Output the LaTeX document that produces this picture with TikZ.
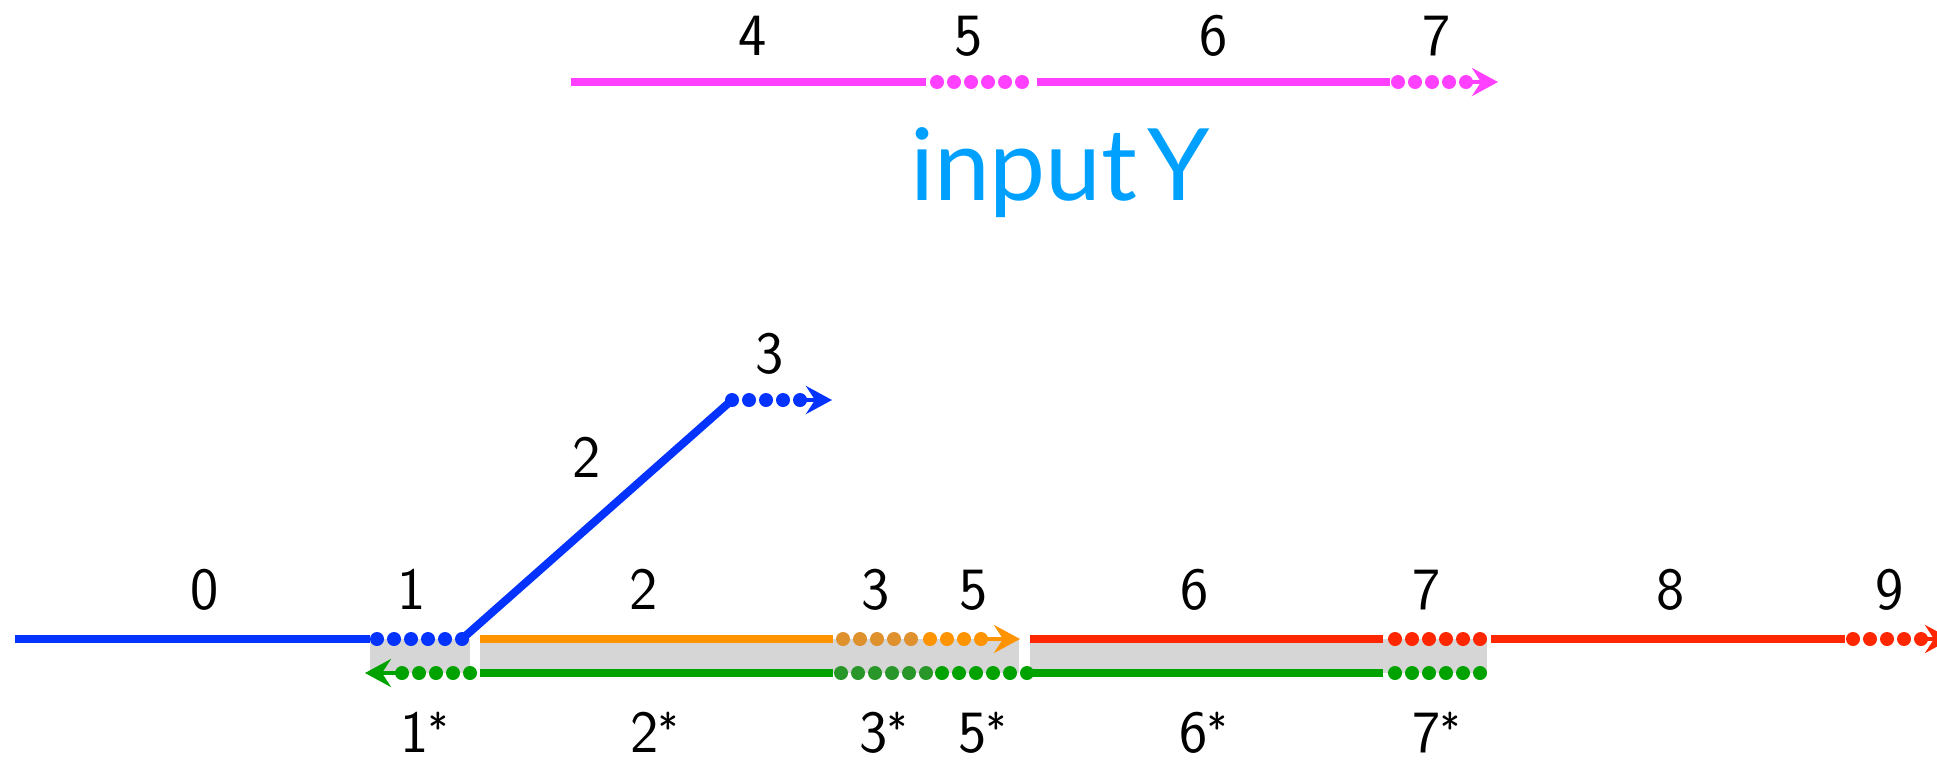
\documentclass[tikz,border=0pt]{standalone}
\usepackage{fontspec}
\newfontfamily\latofont{Lato}
\usetikzlibrary{arrows.meta}
\definecolor{cblue}{RGB}{4,51,255}
\definecolor{cpink}{RGB}{255,64,255}
\definecolor{corange}{RGB}{255,147,0}
\definecolor{corangeD}{RGB}{222,145,45}
\definecolor{cgreen}{RGB}{0,162,0}
\definecolor{cgreenD}{RGB}{40,150,40}
\definecolor{cred}{RGB}{255,38,0}
\definecolor{cgray}{RGB}{214,214,214}
\definecolor{ccyan}{RGB}{0,160,255}
\newcommand{\mystar}{\raisebox{9pt}{\fontsize{42}{42}\selectfont *}}
\tikzset{
  solidseg/.style={line width=8pt},
  dotseg/.style={line width=14pt, line cap=round, dash pattern=on 0pt off 17pt},
  tipseg/.style={line width=4pt, -{Stealth[length=26pt,width=28pt,inset=9pt]}},
  lab/.style={font=\sffamily\fontsize{60}{60}\selectfont, anchor=base, inner sep=0pt},
  bigtitle/.style={font=\latofont\fontsize{100}{100}\selectfont, text=ccyan, anchor=base, inner sep=0pt},
  graybox/.style={fill=cgray, draw=none}
}
\begin{document}
\begin{tikzpicture}[x=1pt,y=-1pt]
\useasboundingbox (0,0) rectangle (1937,761);
\clip (0,0) rectangle (1937,761);
% ---------- coordinates ----------
% pink (input Y)
\coordinate (p0) at (571,82);  \coordinate (p1) at (926,82);
\coordinate (p2) at (937,82);  \coordinate (p3) at (1022.5,82);
\coordinate (p4) at (1037,82); \coordinate (p5) at (1390,82);
\coordinate (p6) at (1398,82); \coordinate (p7) at (1466.5,82);
\coordinate (p7a) at (1466,82); \coordinate (p8) at (1498,82);
% blue
\coordinate (b0) at (15,639);  \coordinate (b1) at (370,639);
\coordinate (b2) at (377,639); \coordinate (b3) at (462.5,639);
\coordinate (b3a) at (462,639);
\coordinate (b4) at (732,400); \coordinate (b5) at (800.5,400);
\coordinate (b5a) at (800,400); \coordinate (b6) at (832,400);
% orange
\coordinate (o0) at (480,639); \coordinate (o1) at (833,639);
\coordinate (o2) at (843,639); \coordinate (o3) at (911.5,639);
\coordinate (o4) at (930,639); \coordinate (o5) at (981.5,639);
\coordinate (o5a) at (981,639); \coordinate (o6) at (1020,639);
% green
\coordinate (g0) at (365,673); \coordinate (g1) at (402,673);
\coordinate (g2) at (470.5,673);
\coordinate (g3) at (480,673); \coordinate (g4) at (833,673);
\coordinate (g5) at (841,673); \coordinate (g6) at (926.5,673);
\coordinate (g7) at (942,673); \coordinate (g8) at (1027.5,673);
\coordinate (g8a) at (1027,673); \coordinate (g9) at (1383,673);
\coordinate (g10) at (1395,673); \coordinate (g11) at (1480.5,673);
% red
\coordinate (r0) at (1030,639); \coordinate (r1) at (1383,639);
\coordinate (r2) at (1395,639); \coordinate (r3) at (1480.5,639);
\coordinate (r4) at (1491,639); \coordinate (r5) at (1845,639);
\coordinate (r6) at (1853,639); \coordinate (r7) at (1921.5,639);
\coordinate (r7a) at (1921,639); \coordinate (r8) at (1951,639);
% ---------- gray bands ----------
\fill[graybox] (370,639) rectangle (470,673);
\fill[graybox] (480,639) rectangle (1019,673);
\fill[graybox] (1030,639) rectangle (1487,673);
% ---------- pink ----------
\draw[solidseg, cpink] (p0) -- (p1);
\draw[dotseg, cpink] (p2) -- (p3);
\draw[solidseg, cpink] (p4) -- (p5);
\draw[dotseg, cpink] (p6) -- (p7);
\draw[tipseg, cpink] (p7a) -- (p8);
% ---------- blue ----------
\draw[solidseg, cblue] (b0) -- (b1);
\draw[dotseg, cblue] (b2) -- (b3);
\draw[solidseg, cblue, line cap=round] (b3a) -- (b4);
\draw[dotseg, cblue] (b4) -- (b5);
\draw[tipseg, cblue] (b5a) -- (b6);
% ---------- orange ----------
\draw[solidseg, corange] (o0) -- (o1);
\draw[dotseg, corangeD] (o2) -- (o3);
\draw[dotseg, corange] (o4) -- (o5);
\draw[tipseg, corange] (o5a) -- (o6);
% ---------- green ----------
\draw[tipseg, cgreen] (g1) -- (g0);
\draw[dotseg, cgreen] (g1) -- (g2);
\draw[solidseg, cgreen] (g3) -- (g4);
\draw[dotseg, cgreenD] (g5) -- (g6);
\draw[dotseg, cgreen] (g7) -- (g8);
\draw[solidseg, cgreen] (g8a) -- (g9);
\draw[dotseg, cgreen] (g10) -- (g11);
% ---------- red ----------
\draw[solidseg, cred] (r0) -- (r1);
\draw[dotseg, cred] (r2) -- (r3);
\draw[solidseg, cred] (r4) -- (r5);
\draw[dotseg, cred] (r6) -- (r7);
\draw[tipseg, cred] (r7a) -- (r8);
% ---------- labels ----------
\node[lab] (t4) at (753,55) {4};
\node[lab] (t5) at (969,55) {5};
\node[lab] (t6) at (1214,55) {6};
\node[lab] (t7) at (1437,55) {7};
\node[bigtitle] (title) at (1060,200) {input\hspace{10pt}Y};
\node[lab] (l0) at (205,609) {0};
\node[lab] (l1) at (412,609) {1};
\node[lab] (l2) at (644,609) {2};
\node[lab] (l3) at (876,609) {3};
\node[lab] (l5) at (974,609) {5};
\node[lab] (l6) at (1195,609) {6};
\node[lab] (l7) at (1427,609) {7};
\node[lab] (l8) at (1671,609) {8};
\node[lab] (l9) at (1890,609) {9};
\node[lab] (d2) at (587,477) {2};
\node[lab] (d3) at (770,373) {3};
\node[lab] (s1) at (424,752) {1\mystar};
\node[lab] (s2) at (654,752) {2\mystar};
\node[lab] (s3) at (883,752) {3\mystar};
\node[lab] (s5) at (982,752) {5\mystar};
\node[lab] (s6) at (1203,752) {6\mystar};
\node[lab] (s7) at (1436,752) {7\mystar};
\end{tikzpicture}
\end{document}
